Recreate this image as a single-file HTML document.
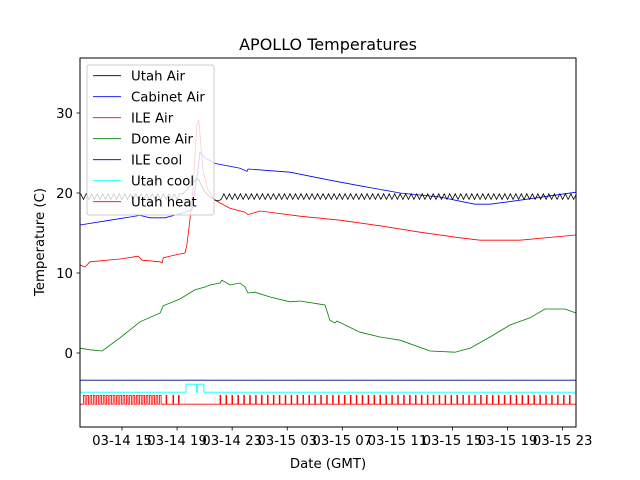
<!DOCTYPE html>
<html><head><meta charset="utf-8"><style>
body{margin:0;background:#fff}
svg{display:block;font-family:"DejaVu Sans","Liberation Sans",sans-serif}
</style></head><body>
<svg id="chart" width="640" height="480" viewBox="0 0 640 480" xmlns="http://www.w3.org/2000/svg">
<rect width="640" height="480" fill="#fff"/>
<text x="328" y="50" text-anchor="middle" font-size="16">APOLLO Temperatures</text>
<g id="plot"></g>
<g id="axes"></g>
<text x="328" y="468" text-anchor="middle" font-size="13.3">Date (GMT)</text>
<text transform="translate(44,242) rotate(-90)" text-anchor="middle" font-size="13.3">Temperature (C)</text>
<g id="legend"></g>
</svg>
<script>
// x in hours since 03-14 00:00 GMT
const xTickHours = [15,19,23,27,31,35,39,43,47];
const xTickLabels = ["03-14 15","03-14 19","03-14 23","03-15 03","03-15 07","03-15 11","03-15 15","03-15 19","03-15 23"];
const yTicks = [0,10,20,30];

const cabinetT = [11.95,14.13,16.31,17.03,18.12,19.21,20.08,20.52,20.66,21.03,21.75,23.57,24.08,24.15,27.2,30.1,32.28,35.19,38.09,39.76,40.64,41.73,43.9,47.97];
const cabinetV = [16.0,16.6,17.2,16.9,16.9,17.4,17.9,22.9,25.1,24.4,23.7,23.1,22.7,23.0,22.6,21.6,20.9,20.0,19.5,18.9,18.6,18.6,19.1,20.1];

const ileAirT = [11.95,12.31,12.68,14.86,16.17,16.46,17.77,17.91,17.99,18.85,19.57,19.71,19.93,20.15,20.44,20.58,20.87,21.23,21.75,22.84,23.93,24.15,25.02,27.93,30.83,33.74,36.64,39.55,41.0,43.9,47.97];
const ileAirV = [11.0,10.75,11.4,11.75,12.1,11.6,11.4,11.25,11.9,12.25,12.5,13.5,16.6,20.4,28.5,29.1,22.9,20.4,19.1,18.1,17.6,17.3,17.75,17.1,16.6,15.9,15.1,14.4,14.1,14.1,14.75];

const domeT = [11.95,12.68,13.55,14.86,16.31,17.77,17.99,19.21,20.3,21.03,21.39,22.12,22.26,22.84,23.57,23.93,24.15,24.66,25.75,27.2,27.93,29.38,29.74,30.1,30.47,30.61,32.28,33.74,35.19,37.37,39.18,40.27,41.73,43.18,44.63,45.72,47.17,47.97];
const domeV = [0.6,0.4,0.25,1.9,3.9,5.0,5.9,6.75,7.9,8.25,8.5,8.75,9.1,8.5,8.75,8.25,7.5,7.6,7.0,6.4,6.5,6.1,6.0,4.1,3.75,4.0,2.6,2.0,1.6,0.25,0.1,0.6,2.0,3.5,4.4,5.5,5.5,5.0];

// Utah Air samples every 0.2 h starting 12.0
const utahAirStart = 12.0;
const utahAirStep = 0.2;
const utahAirV = [
19.9,19.2,19.9,19.2,19.9,19.2,19.9,19.2,19.9,19.2,19.9,19.2,19.9,19.2,19.9,19.2,19.9,19.2,19.9,19.2,
19.9,19.2,19.9,19.2,19.9,19.2,19.9,19.2,19.9,19.2,19.9,19.2,19.9,19.2,19.9,19.2,19.9,
19.9,20.2,20.6,21.0,21.3,21.8,21.6,20.8,20.2,19.8,19.5,19.3,19.1,19.0,19.2,
19.9,19.2,19.9,19.2,19.9,19.2,19.9,19.2,19.9,19.2,19.9,19.2,19.9,19.2,19.9,19.2,19.9,19.2,19.9,19.2,
19.9,19.2,19.9,19.2,19.9,19.2,19.9,19.2,19.9,19.2,19.9,19.2,19.9,19.2,19.9,19.2,19.9,19.2,19.9,19.2,
19.9,19.2,19.9,19.2,19.9,19.2,19.9,19.2,19.9,19.2,19.9,19.2,19.9,19.2,19.9,19.2,19.9,19.2,19.9,19.2,
19.9,19.2,19.9,19.2,19.9,19.2,19.9,19.2,19.9,19.2,19.9,19.2,19.9,19.2,19.9,19.2,19.9,19.2,19.9,19.2,
19.9,19.2,19.9,19.2,19.9,19.2,19.9,19.2,19.9,19.2,19.9,19.2,19.9,19.2,19.9,19.2,19.9,19.2,19.9,19.2,
19.9,19.2,19.9,19.2,19.9,19.2,19.9,19.2,19.9,19.2,19.9,19.2,19.9,19.2,19.9,19.2,19.9,19.2,19.9,19.2,
19.9,19.2,19.9,19.2,19.9,19.2,19.9,19.2,19.9];

const ileCoolT = [11.95,47.97];
const ileCoolV = [-3.4,-3.4];

const utahCoolT = [11.95,19.65,19.65,20.4,20.4,20.5,20.5,20.95,20.95,47.97];
const utahCoolV = [-4.9,-4.9,-3.9,-3.9,-4.9,-4.9,-3.9,-3.9,-4.9,-4.9];

const heatOff = -6.4, heatOnLevel = -5.3;
const heatOnDense = [12.20,12.44,12.68,12.92,13.16,13.40,13.64,13.88,14.12,14.36,14.60,14.84,15.08,15.32,15.56,15.80,16.04,16.28,16.52,16.76,17.00,17.24,17.48,17.72];
const heatOnSparse = [18.2,18.7,19.1,22.12,22.55,22.98,23.41,23.84,24.27,24.70,25.13,25.56,25.99,26.42,26.85,27.28,27.71,28.14,28.57,29.00,29.43,29.86,30.29,30.72,31.15,31.58,32.01,32.44,32.87,33.30,33.73,34.16,34.59,35.02,35.45,35.88,36.31,36.74,37.17,37.60,38.03,38.46,38.89,39.32,39.75,40.18,40.61,41.04,41.47,41.90,42.33,42.76,43.19,43.62,44.05,44.48,44.91,45.34,45.77,46.20,46.63,47.06,47.49];

const L=80,R=576,T=58,B=427;
const xMin=11.95,xMax=47.97,yMin=-9.25,yMax=36.875;
const xs=h=>L+(h-xMin)/(xMax-xMin)*(R-L);
const ys=v=>B-(v-yMin)/(yMax-yMin)*(B-T);
const NS="http://www.w3.org/2000/svg";
const plot=document.getElementById('plot'), axes=document.getElementById('axes'), legend=document.getElementById('legend');
function mk(tag,attrs,parent){const e=document.createElementNS(NS,tag);for(const k in attrs)e.setAttribute(k,attrs[k]);parent.appendChild(e);return e;}
function line(ts,vs,color,name){
  const d=ts.map((t,i)=>(i?'L':'M')+xs(t).toFixed(2)+','+ys(vs[i]).toFixed(2)).join('');
  const p=mk('path',{d:d,fill:'none',stroke:color,'stroke-width':0.8},plot);
  
  
}
line(cabinetT,cabinetV,'#0000ff','cabinet-air-line');
line(ileAirT,ileAirV,'#ff0000','ile-air-line');
line(domeT,domeV,'#008000','dome-air-line');
line(utahAirV.map((v,i)=>utahAirStart+i*utahAirStep),utahAirV,'#000000','utah-air-line');
line(ileCoolT,ileCoolV,'#00008b','ile-cool-line');
line(utahCoolT,utahCoolV,'#00ffff','utah-cool-line');
(function(){
  const ht=[xMin],hv=[heatOff];
  heatOnDense.forEach(t=>{ht.push(t,t,t+0.12,t+0.12);hv.push(heatOff,heatOnLevel,heatOnLevel,heatOff);});
  heatOnSparse.forEach(t=>{ht.push(t,t,t+0.05,t+0.05);hv.push(heatOff,heatOnLevel,heatOnLevel,heatOff);});
  ht.push(xMax);hv.push(heatOff);
  line(ht,hv,'#ff0000','utah-heat-line');
})();
const fr=mk('rect',{x:L,y:T,width:R-L,height:B-T,fill:'none',stroke:'#000','stroke-width':1},axes);


xTickHours.forEach((h,i)=>{
  const x=xs(h);
  const t=mk('line',{x1:x,x2:x,y1:B,y2:B+3.5,stroke:'#000','stroke-width':0.8},axes);
  
  
  const tx=mk('text',{x:x,y:B+18,'text-anchor':'middle','font-size':13.3},axes);
  
  
  tx.textContent=xTickLabels[i];
});
yTicks.forEach(v=>{
  const y=ys(v);
  const t=mk('line',{x1:L-3.5,x2:L,y1:y,y2:y,stroke:'#000','stroke-width':0.8},axes);
  
  
  const tx=mk('text',{x:L-7,y:y+4.8,'text-anchor':'end','font-size':13.3},axes);
  
  
  tx.textContent=String(v);
});
const lg=mk('rect',{x:87,y:65,width:127,height:150,rx:2,fill:'#fff','fill-opacity':0.8,stroke:'#ccc','stroke-width':1},legend);


const legNames=["Utah Air","Cabinet Air","ILE Air","Dome Air","ILE cool","Utah cool","Utah heat"];
const legColors=['#000000','#0000ff','#ff0000','#008000','#00008b','#00ffff','#ff0000'];
legNames.forEach((n,i)=>{
  const y=75.7+i*21;
  const g=mk('g',{},legend);
  
  
  mk('line',{x1:93,x2:121,y1:y,y2:y,stroke:legColors[i],'stroke-width':0.8},g);
  const tx=mk('text',{x:131,y:y+4.8,'font-size':13.3},g);
  tx.textContent=n;
});
</script>
</body></html>
